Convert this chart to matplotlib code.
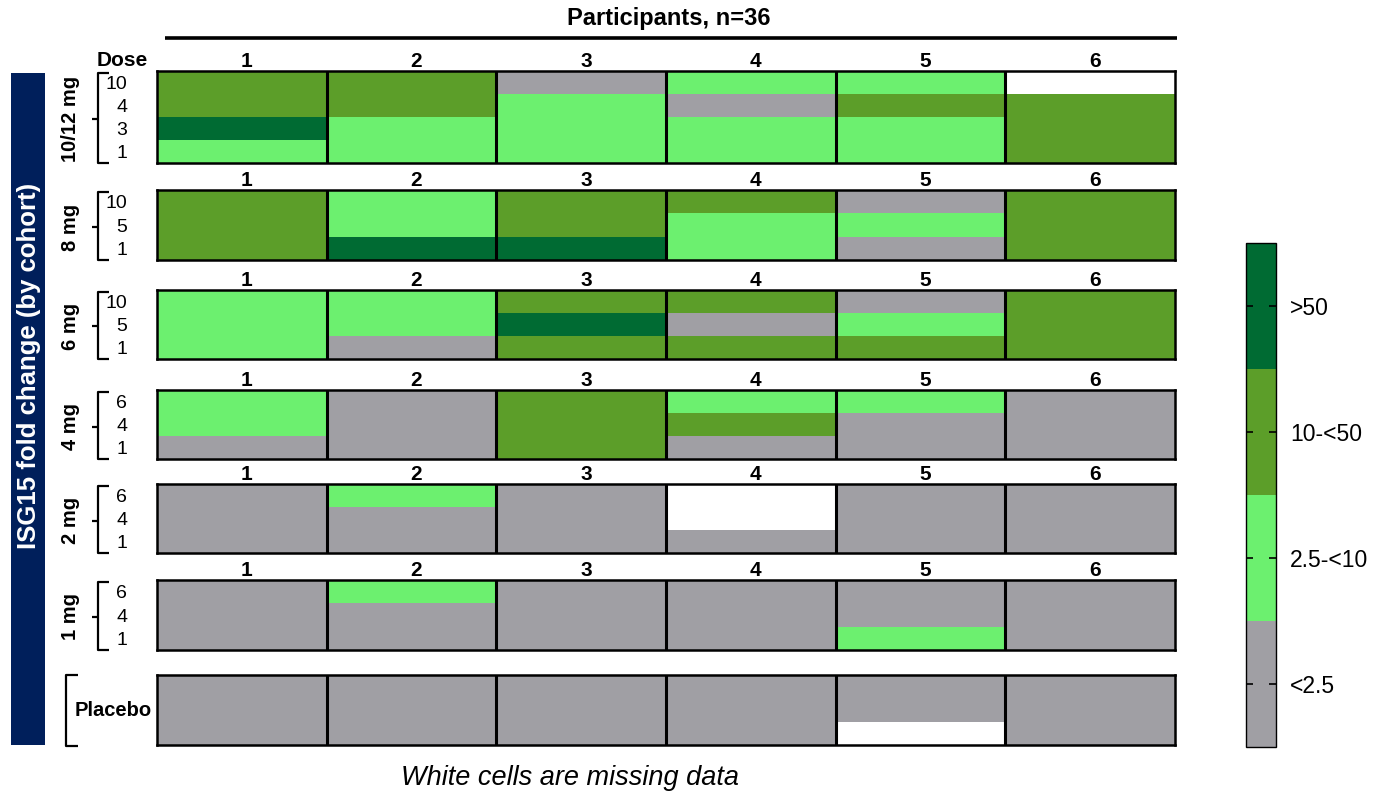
import numpy as np
import matplotlib
matplotlib.use("Agg")
import matplotlib.pyplot as plt
import matplotlib.transforms as mtransforms
from matplotlib.colors import ListedColormap, BoundaryNorm
from matplotlib.lines import Line2D
from matplotlib.patches import Rectangle

plt.rcParams['font.family'] = ['Liberation Sans', 'DejaVu Sans']

# ---------------- data ----------------
# category codes: 0 = <2.5, 1 = 2.5-<10, 2 = 10-<50, 3 = >50, nan = missing
participants = ["1", "2", "3", "4", "5", "6"]
category_labels = ["<2.5", "2.5-<10", "10-<50", ">50"]
nan = np.nan

cohort_names = ["10/12 mg", "8 mg", "6 mg", "4 mg", "2 mg", "1 mg", "Placebo"]

days_10mg = ["10", "4", "3", "1"]
fold_10mg = [[2, 2, 0, 1, 1, nan],
             [2, 2, 1, 0, 2, 2],
             [3, 1, 1, 1, 1, 2],
             [1, 1, 1, 1, 1, 2]]

days_8mg = ["10", "5", "1"]
fold_8mg = [[2, 1, 2, 2, 0, 2],
            [2, 1, 2, 1, 1, 2],
            [2, 3, 3, 1, 0, 2]]

days_6mg = ["10", "5", "1"]
fold_6mg = [[1, 1, 2, 2, 0, 2],
            [1, 1, 3, 0, 1, 2],
            [1, 0, 2, 2, 2, 2]]

days_4mg = ["6", "4", "1"]
fold_4mg = [[1, 0, 2, 1, 1, 0],
            [1, 0, 2, 2, 0, 0],
            [0, 0, 2, 0, 0, 0]]

days_2mg = ["6", "4", "1"]
fold_2mg = [[0, 1, 0, nan, 0, 0],
            [0, 0, 0, nan, 0, 0],
            [0, 0, 0, 0, 0, 0]]

days_1mg = ["6", "4", "1"]
fold_1mg = [[0, 1, 0, 0, 0, 0],
            [0, 0, 0, 0, 0, 0],
            [0, 0, 0, 0, 1, 0]]

days_placebo = ["", "", ""]
fold_placebo = [[0, 0, 0, 0, 0, 0],
                [0, 0, 0, 0, 0, 0],
                [0, 0, 0, 0, nan, 0]]

cohort_days = [days_10mg, days_8mg, days_6mg, days_4mg, days_2mg, days_1mg, days_placebo]
cohort_values = [fold_10mg, fold_8mg, fold_6mg, fold_4mg, fold_2mg, fold_1mg, fold_placebo]

# ---------------- style ----------------
colors = ["#a09fa4", "#6cf06f", "#5c9e29", "#006b33"]
cmap = ListedColormap(colors)
cmap.set_bad("white")
norm = BoundaryNorm([-0.5, 0.5, 1.5, 2.5, 3.5], cmap.N)

W, H = 1374, 794
fig = plt.figure(figsize=(W / 100, H / 100), dpi=100)

def fx(x):
    return x / W

def fy(y):
    return 1 - y / H

def fline(xs, ys, lw=1.6, color="black"):
    fig.add_artist(Line2D([fx(x) for x in xs], [fy(y) for y in ys],
                          transform=fig.transFigure, color=color, lw=lw,
                          solid_capstyle="butt"))

# panel vertical extents (px)
panel_tops = [71, 190, 290, 390, 484, 580, 675]
panel_bots = [163, 260, 359, 459, 553, 650, 745]
x0, x1 = 157, 1175
label_shift = mtransforms.ScaledTranslation(5 / 100, 0, fig.dpi_scale_trans)

for i, (name, days, vals) in enumerate(zip(cohort_names, cohort_days, cohort_values)):
    top, bot = panel_tops[i], panel_bots[i]
    ax = fig.add_axes([fx(x0), fy(bot), fx(x1) - fx(x0), fy(top) - fy(bot)])
    arr = np.ma.masked_invalid(np.array(vals, dtype=float))
    nrow, ncol = arr.shape
    ax.pcolormesh(np.arange(ncol + 1), np.arange(nrow + 1), arr,
                  cmap=cmap, norm=norm, shading="flat")
    ax.set_xlim(0, ncol)
    ax.set_ylim(nrow, 0)
    for c in range(1, ncol):
        ax.axvline(c, color="black", lw=2.2)
    for s in ax.spines.values():
        s.set_linewidth(1.8)
    if name != "Placebo":
        ax.xaxis.tick_top()
        ax.set_xticks(np.arange(ncol) + 0.5)
        ax.set_xticklabels(participants, fontsize=15, fontweight="bold")
        ax.tick_params(axis="x", length=0, pad=0)
        for lab in ax.get_xticklabels():
            lab.set_transform(lab.get_transform() + label_shift)
        ax.set_yticks(np.arange(nrow) + 0.5)
        ax.set_yticklabels(days, fontsize=14)
        ax.tick_params(axis="y", length=0, pad=21.5)
        # bracket
        fline([109, 98, 98, 109], [top + 2, top + 2, bot, bot])
        mid = (top + bot) / 2 + 2
        fline([92, 98], [mid, mid])
        fig.text(fx(70), fy(mid), name, rotation=90, ha="center", va="center",
                 fontsize=14.5, fontweight="bold")
    else:
        ax.set_xticks([])
        ax.set_yticks([])
        fline([78, 66, 66, 78], [top, top, bot + 1, bot + 1])
        fig.text(fx(75), fy((top + bot) / 2), name, ha="left", va="center",
                 fontsize=14.5, fontweight="bold")

# Dose header
fig.text(fx(122), fy(61), "Dose", ha="center", va="center", fontsize=15, fontweight="bold")

# Participants header
fig.text(fx(669), fy(18), "Participants, n=36", ha="center", va="center",
         fontsize=17, fontweight="bold")
fline([165, 1177], [38, 38], lw=2.6)

# left navy band
fig.add_artist(Rectangle((fx(11), fy(745)), fx(45) - fx(11), fy(73) - fy(745),
                         transform=fig.transFigure, color="#001f5b", lw=0))
fig.text(fx(29), fy(366), "ISG15 fold change (by cohort)", rotation=90,
         ha="center", va="center", color="white", fontsize=18.5, fontweight="bold")

# colorbar
cax = fig.add_axes([fx(1246), fy(747), fx(1276) - fx(1246), fy(243) - fy(747)])
sm = matplotlib.cm.ScalarMappable(cmap=cmap, norm=norm)
cb = fig.colorbar(sm, cax=cax, ticks=[0, 1, 2, 3])
cb.minorticks_off()
cb.ax.set_yticklabels(category_labels, fontsize=16.5)
cb.outline.set_linewidth(1.0)
cb.ax.tick_params(axis="y", which="major", direction="in", length=5, width=1.2,
                  left=True, right=True, pad=10)

# footer
fig.text(fx(570), fy(778), "White cells are missing data", ha="center", va="center",
         fontsize=19.5, style="italic")

fig.savefig("out.png", dpi=100)
